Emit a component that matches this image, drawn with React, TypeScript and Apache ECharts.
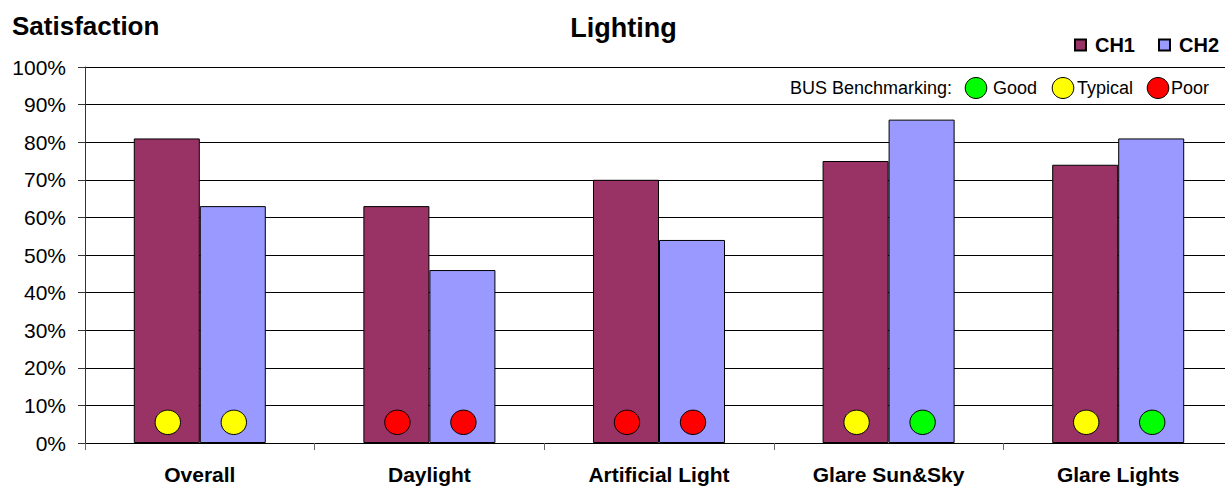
import React, { useEffect, useRef } from "react";
import * as echarts from "echarts";

// Lighting satisfaction per category, in percent
const categories = ["Overall", "Daylight", "Artificial Light", "Glare Sun&Sky", "Glare Lights"];
const ch1Values = [81, 63, 70, 75, 74];
const ch2Values = [63, 46, 54, 86, 81];

// BUS benchmark rating for each bar
const ch1Ratings = ["Typical", "Poor", "Poor", "Typical", "Typical"];
const ch2Ratings = ["Typical", "Poor", "Poor", "Good", "Good"];

const ratingNames = ["Good", "Typical", "Poor"];
const yTicks = [0, 10, 20, 30, 40, 50, 60, 70, 80, 90, 100];

const FONT = "'Liberation Sans', Arial, sans-serif";
const RATING_COLORS: Record<string, string> = {
  Good: "#00FF00",
  Typical: "#FFFF00",
  Poor: "#FF0000",
};
const CH1_COLOR = "#993366";
const CH2_COLOR = "#9999FF";
const CATEGORY_GAP = 0.425;

// the plot runs a little past the visible right edge
const VIEW_W = 1225;
const CANVAS_W = 1236;
const H = 486;

function ratingSeries(name: string, ratings: string[], side: number) {
  return {
    type: "custom",
    name,
    silent: true,
    z: 5,
    data: categories.map((_, i) => [i, 0]),
    encode: { x: 0, y: 1 },
    renderItem: (params: any, api: any) => {
      const catW = api.size([1, 0])[0];
      const barW = (catW * (1 - CATEGORY_GAP)) / 2;
      const p = api.coord([api.value(0), 5.5]);
      return {
        type: "ellipse",
        shape: { cx: p[0] + (side * barW) / 2 + 1, cy: p[1], rx: 12.7, ry: 12.2 },
        style: {
          fill: RATING_COLORS[ratings[params.dataIndex]],
          stroke: "#000",
          lineWidth: 1,
        },
      };
    },
  };
}

export default function App() {
  const ref = useRef<HTMLDivElement>(null);

  useEffect(() => {
    if (!ref.current) return;
    const chart = echarts.init(ref.current, undefined, { renderer: "svg" });

    // benchmark key drawn inside the top band of the plot
    const keyX = [976, 1063, 1158];
    const keyTextX = [993, 1077, 1171];
    const keyElements: any[] = [
      {
        type: "text",
        x: 790,
        y: 88,
        style: { text: "BUS Benchmarking:", font: `18px ${FONT}`, fill: "#000", verticalAlign: "middle" },
      },
    ];
    ratingNames.forEach((r, i) => {
      keyElements.push({
        type: "ellipse",
        shape: { cx: keyX[i], cy: 88, rx: 10.8, ry: 10.5 },
        style: { fill: RATING_COLORS[r], stroke: "#000", lineWidth: 1 },
      });
      keyElements.push({
        type: "text",
        x: keyTextX[i],
        y: 88,
        style: { text: r, font: `18px ${FONT}`, fill: "#000", verticalAlign: "middle" },
      });
    });

    chart.setOption({
      animation: false,
      backgroundColor: "#fff",
      textStyle: { fontFamily: FONT },
      graphic: [
        {
          type: "text",
          x: 12,
          y: 25.5,
          style: { text: "Satisfaction", font: `bold 26px ${FONT}`, fill: "#000", verticalAlign: "middle" },
        },
        {
          type: "text",
          x: 623.5,
          y: 28,
          style: {
            text: "Lighting",
            font: `bold 27px ${FONT}`,
            fill: "#000",
            align: "center",
            verticalAlign: "middle",
          },
        },
        ...keyElements,
      ],
      legend: {
        data: [
          { name: "CH1", icon: "rect" },
          { name: "CH2", icon: "rect" },
        ],
        right: CANVAS_W - VIEW_W + 1,
        top: 30,
        itemWidth: 11,
        itemHeight: 11,
        itemGap: 23,
        textStyle: {
          fontFamily: FONT,
          fontSize: 20,
          fontWeight: "bold",
          color: "#000",
          padding: [0, 0, 0, 4],
        },
      },
      grid: { left: 85, top: 67, width: 1148, height: 376, containLabel: false },
      xAxis: {
        type: "category",
        data: categories,
        axisLine: { lineStyle: { color: "#000", width: 1 } },
        axisTick: { show: true, length: 7, lineStyle: { color: "#666" } },
        axisLabel: {
          fontFamily: FONT,
          fontSize: 21,
          fontWeight: "bold",
          color: "#000",
          margin: 21,
          interval: 0,
        },
        splitLine: { show: false },
      },
      yAxis: {
        type: "value",
        min: yTicks[0],
        max: yTicks[yTicks.length - 1],
        interval: 10,
        axisLine: { show: true, lineStyle: { color: "#333", width: 1 } },
        axisTick: { show: true, length: 7, lineStyle: { color: "#333" } },
        axisLabel: {
          fontFamily: FONT,
          fontSize: 21,
          color: "#000",
          margin: 19,
          formatter: "{value}%",
        },
        splitLine: { show: true, lineStyle: { color: "#000", width: 1 } },
      },
      series: [
        {
          type: "bar",
          name: "CH1",
          data: ch1Values,
          barGap: "0%",
          barCategoryGap: `${CATEGORY_GAP * 100}%`,
          itemStyle: { color: CH1_COLOR, borderColor: "#000", borderWidth: 1 },
          z: 3,
        },
        {
          type: "bar",
          name: "CH2",
          data: ch2Values,
          barGap: "0%",
          barCategoryGap: `${CATEGORY_GAP * 100}%`,
          itemStyle: { color: CH2_COLOR, borderColor: "#000", borderWidth: 1 },
          z: 3,
        },
        ratingSeries("CH1 rating", ch1Ratings, -1),
        ratingSeries("CH2 rating", ch2Ratings, 1),
      ],
    });

    return () => chart.dispose();
  }, []);

  return (
    <div style={{ position: "fixed", left: 0, top: 0, width: VIEW_W, height: H, overflow: "hidden" }}>
      <div ref={ref} style={{ width: CANVAS_W, height: H }} />
    </div>
  );
}
